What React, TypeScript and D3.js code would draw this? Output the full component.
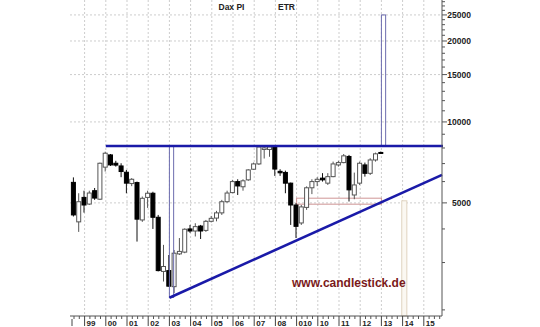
import React from "react";
import * as d3 from "d3";

// Quarterly candles, DAX Performance Index
const quarters = [
  "1998Q3","1998Q4","1999Q1","1999Q2","1999Q3","1999Q4","2000Q1","2000Q2","2000Q3","2000Q4",
  "2001Q1","2001Q2","2001Q3","2001Q4","2002Q1","2002Q2","2002Q3","2002Q4","2003Q1","2003Q2",
  "2003Q3","2003Q4","2004Q1","2004Q2","2004Q3","2004Q4","2005Q1","2005Q2","2005Q3","2005Q4",
  "2006Q1","2006Q2","2006Q3","2006Q4","2007Q1","2007Q2","2007Q3","2007Q4","2008Q1","2008Q2",
  "2008Q3","2008Q4","2009Q1","2009Q2","2009Q3","2009Q4","2010Q1","2010Q2","2010Q3","2010Q4",
  "2011Q1","2011Q2","2011Q3","2011Q4","2012Q1","2012Q2","2012Q3","2012Q4","2013Q1"
];
const opens = [
  5960,4250,5240,4950,5550,5160,6790,7540,7020,6860,
  6500,5900,5950,4320,5240,5430,4420,2780,2800,2440,
  3230,3280,4000,3930,4100,3950,4270,4390,4590,5050,
  5460,6000,5740,6090,6670,6980,7900,7900,8070,6550,
  6490,5920,4910,4210,4810,5690,6000,6180,5920,6260,
  6920,7060,7440,5350,5920,6920,6440,7220,7700
];
const highs = [
  6220,5430,5550,5550,5680,7060,7750,7600,7170,7020,
  6630,6180,6000,5280,5550,5500,4510,3490,3200,3340,
  3700,4020,4140,4200,4140,4320,4470,4670,5130,5550,
  6090,6120,6120,6670,7060,8150,8140,8150,8140,6670,
  6590,5950,4990,4910,5760,6120,6230,6450,6450,7120,
  7170,7600,7540,6480,7120,7060,7330,7690,7760
];
const lows = [
  4450,3900,4600,4910,5130,5130,6540,6860,6820,6230,
  5430,5770,3590,4250,4790,4000,2780,2550,2440,2310,
  3200,3250,3870,3750,3670,3900,4230,4270,4510,5010,
  5430,5350,5550,6040,6630,6920,7310,7420,6300,6300,
  5430,4140,3700,4140,4710,5390,5770,6000,5830,6230,
  6820,7020,5060,5160,5830,6260,6350,7120,7640
];
const closes = [
  4510,5050,4910,5440,5210,7020,7650,6920,6910,6540,
  5920,6120,4350,5200,5430,4420,2800,2900,2450,3250,
  3300,3990,3930,4080,3930,4270,4380,4590,5050,5440,
  6000,5780,6040,6630,6980,8070,8010,8070,6680,6470,
  5920,4910,4090,4830,5690,6000,6120,6090,6260,6980,
  7060,7480,5590,5830,7020,6440,7220,7610,7680
];

const years = [1999,2000,2001,2002,2003,2004,2005,2006,2007,2008,2009,2010,2011,2012,2013,2014,2015];
const yearLabels = ["99","00","01","02","03","04","05","06","07","08","010","10","11","12","13","14","15"];
const priceTicks = [5000,10000,15000,20000,25000];

// Drawn objects (dates in fractional years, prices)
const resistanceLevel = 8140;
const resistanceStart = 2000.0;
const trendStart = { t: 2003.0, v: 2220 };
const trendEnd = { t: 2015.86, v: 6355 };
const box2003 = { t0: 2003.0, t1: 2003.2, v0: 2225, v1: 8140 };
const box2013 = { t0: 2013.0, t1: 2013.2, v0: 8140, v1: 25000 };
const supportZone = { t0: 2009.0, t1: 2013.0, v0: 4945, v1: 5205 };
const projection = { t0: 2013.96, t1: 2014.2, v1: 5090 };

export default function App() {
  const W = 540, H = 327;
  const left = 70, right = 442, bottom = 316;
  const x = d3.scaleLinear().domain([1999, 2015]).range([84.6, 423.8]);
  const y = d3.scaleLog().domain([1898, 28410]).range([bottom, 0]);
  const qt = (s: string) => +s.slice(0, 4) + (+s.slice(5) - 1) * 0.25;

  const minorY = d3.range(2000, 29000, 1000).filter(v => !priceTicks.includes(v));
  const minorX = d3.range(1998.5, 2015.9, 0.25).filter(t => Math.abs(t - Math.round(t)) > 0.01);

  const font = "'Liberation Sans', Arial, sans-serif";
  const bw = 4;

  return (
    <svg width={W} height={H} style={{ position: "absolute", left: 0, top: 0, background: "#fff" }}>
      <defs>
        <clipPath id="plot"><rect x={left} y={0} width={right - left + 1} height={bottom} /></clipPath>
      </defs>
      {/* grid */}
      {years.map(t => (
        <line key={"gv" + t} x1={x(t)} x2={x(t)} y1={0} y2={bottom} stroke="#cdcdcd" strokeDasharray="2,2" />
      ))}
      {priceTicks.map(v => (
        <line key={"gh" + v} x1={left} x2={right} y1={y(v)} y2={y(v)} stroke="#cdcdcd" strokeDasharray="2,2" />
      ))}

      {/* support zone */}
      <rect x={x(supportZone.t0)} width={x(supportZone.t1) - x(supportZone.t0)} y={y(supportZone.v1)}
        height={y(supportZone.v0) - y(supportZone.v1)} fill="none" stroke="#cf9595" strokeWidth={1} />
      {/* projection */}
      <rect x={x(projection.t0)} width={x(projection.t1) - x(projection.t0)} y={y(projection.v1)}
        height={bottom - y(projection.v1)} fill="#fbf8f2" stroke="#e0d4c0" strokeWidth={1} />

      {/* candles */}
      {quarters.map((q, i) => {
        const cx = x(qt(q)) - 0.6;
        const o = opens[i], c = closes[i];
        const up = c >= o;
        const top = y(Math.max(o, c)), bot = y(Math.min(o, c));
        return (
          <g key={q}>
            <line x1={cx} x2={cx} y1={y(highs[i])} y2={y(lows[i])} stroke={up ? "#555" : "#111"} strokeWidth={1} />
            <rect x={cx - bw / 2} y={top} width={bw} height={Math.max(1, bot - top)}
              fill={up ? "#fff" : "#000"} stroke={up ? "#555" : "#000"} strokeWidth={1} />
          </g>
        );
      })}

      {/* boxes */}
      <rect x={x(box2003.t0)} width={x(box2003.t1) - x(box2003.t0)} y={y(box2003.v1)}
        height={y(box2003.v0) - y(box2003.v1)} fill="none" stroke="#6c6cae" strokeWidth={1} />
      <rect x={x(box2013.t0)} width={x(box2013.t1) - x(box2013.t0)} y={y(box2013.v1)}
        height={y(box2013.v0) - y(box2013.v1)} fill="none" stroke="#6c6cae" strokeWidth={1} />

      {/* lines */}
      <g clipPath="url(#plot)">
        <line x1={x(resistanceStart)} x2={right + 1} y1={y(resistanceLevel)} y2={y(resistanceLevel)}
          stroke="#1a1aa8" strokeWidth={2.6} />
        <line x1={x(trendStart.t)} y1={y(trendStart.v)} x2={x(trendEnd.t)} y2={y(trendEnd.v)}
          stroke="#1a1aa8" strokeWidth={2.6} />
      </g>

      {/* right axis */}
      <line x1={right} x2={right} y1={0} y2={bottom} stroke="#555" />
      {minorY.map(v => (
        <line key={"my" + v} x1={right} x2={right + 3} y1={y(v)} y2={y(v)} stroke="#555" />
      ))}
      {priceTicks.map(v => (
        <g key={"py" + v}>
          <line x1={right} x2={right + 5} y1={y(v)} y2={y(v)} stroke="#555" />
          <text x={471} y={y(v) + 3} textAnchor="end" fontFamily={font} fontSize={8.5} fontWeight="bold" fill="#222">{v}</text>
        </g>
      ))}

      {/* bottom axis */}
      <line x1={left} x2={right} y1={bottom} y2={bottom} stroke="#555" />
      {minorX.map(t => (
        <line key={"mx" + t} x1={x(t)} x2={x(t)} y1={bottom} y2={bottom + 3} stroke="#555" />
      ))}
      <line x1={72} x2={72} y1={bottom + 3} y2={bottom + 10} stroke="#444" />
      {years.map((t, i) => (
        <g key={"yx" + t}>
          <line x1={x(t)} x2={x(t)} y1={bottom} y2={bottom + 10} stroke="#444" />
          <text x={x(t) + 2} y={bottom + 10} fontFamily={font} fontSize={8} fontWeight="bold" fill="#222">{yearLabels[i]}</text>
        </g>
      ))}

      {/* titles */}
      <text x={218.5} y={10} fontFamily={font} fontSize={8.5} fontWeight="bold" fill="#222">Dax PI</text>
      <text x={278} y={10} fontFamily={font} fontSize={8.5} fontWeight="bold" fill="#222">ETR</text>
      <text x={292} y={287} fontFamily={font} fontSize={12} fontWeight="bold" fill="#7a1a1a">www.candlestick.de</text>
    </svg>
  );
}
